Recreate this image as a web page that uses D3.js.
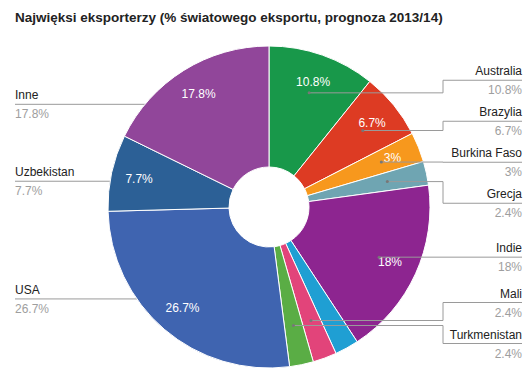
<!DOCTYPE html>
<html lang="pl">
<head>
<meta charset="utf-8">
<title>Najwięksi eksporterzy</title>
<script src="https://cdn.jsdelivr.net/npm/d3@7"></script>
<style>
  body { margin: 0; background: #fff; }
  svg { font-family: Arial, "Liberation Sans", sans-serif; }
</style>
</head>
<body>
<div id="chart"></div>
<script>
// data (clockwise from 12 o'clock)
var names  = ["Australia", "Brazylia", "Burkina Faso", "Grecja", "Indie", "", "Mali", "Turkmenistan", "USA", "Uzbekistan", "Inne"];
var values = [10.8, 6.7, 3, 2.4, 18, 2.4, 2.4, 2.4, 26.7, 7.7, 17.8];
var colors = ["#18984a", "#dd3b23", "#f7981d", "#6fa5b2", "#8d2590", "#1f9fd3", "#e2447a", "#5aad45", "#3f64b0", "#2c6096", "#91469a"];
var title = "Najwięksi eksporterzy (% światowego eksportu, prognoza 2013/14)";

var w = 531, h = 373;
var cx = 269, cy = 207, R = 161, r0 = 40;

var svg = d3.select("#chart").append("svg")
    .attr("width", w)
    .attr("height", h);

svg.append("text")
    .attr("x", 15)
    .attr("y", 22)
    .attr("font-size", 13.5)
    .attr("font-weight", "bold")
    .attr("fill", "#222")
    .text(title);

var data = names.map(function (n, i) { return { name: n, v: values[i], color: colors[i] }; });

var pie = d3.pie().sort(null).value(function (d) { return d.v; });
var arcs = pie(data);

var arc = d3.arc().innerRadius(r0).outerRadius(R);
var anchorArc = d3.arc().innerRadius(121).outerRadius(121);
var textArc = d3.arc().innerRadius(133).outerRadius(133);

// label layout: group overlapping labels and centre each group on its mean
function layoutLabels(items, gap) {
    items.sort(function (a, b) { return a.want - b.want; });
    var groups = items.map(function (d) { return { items: [d] }; });
    function top(g) {
        var m = d3.mean(g.items, function (d) { return d.want; });
        return m - (g.items.length - 1) * gap / 2;
    }
    var merged = true;
    while (merged) {
        merged = false;
        for (var i = 1; i < groups.length; i++) {
            var a = groups[i - 1], b = groups[i];
            if (top(a) + a.items.length * gap > top(b)) {
                a.items = a.items.concat(b.items);
                groups.splice(i, 1);
                merged = true;
                break;
            }
        }
    }
    groups.forEach(function (g) {
        var t = top(g);
        g.items.forEach(function (d, k) { d.y = t + k * gap; });
    });
}

var labels = arcs.filter(function (a) { return a.data.name !== ""; }).map(function (a) {
    var c = anchorArc.centroid(a);
    var mid = (a.startAngle + a.endAngle) / 2;
    return { a: a, tx: cx + c[0], ty: cy + c[1], want: cy + c[1], right: mid < Math.PI };
});
var rightLabels = labels.filter(function (d) { return d.right; });
var leftLabels = labels.filter(function (d) { return !d.right; });
layoutLabels(rightLabels, 41);
layoutLabels(leftLabels, 41);

var line = d3.line();

// left leaders sit under the pie
var gLeft = svg.append("g");
leftLabels.forEach(function (d) {
    gLeft.append("path")
        .attr("d", line([[15, d.y], [d.tx, d.y], [d.tx, d.ty]]))
        .attr("fill", "none")
        .attr("stroke", "#9a9a9a")
        .attr("stroke-width", 1);
});

var g = svg.append("g").attr("transform", "translate(" + cx + "," + cy + ")");

g.selectAll("path.slice")
    .data(arcs)
    .enter()
    .append("path")
    .attr("class", "slice")
    .attr("d", arc)
    .attr("fill", function (d) { return d.data.color; })
    .attr("stroke", "#fff")
    .attr("stroke-width", 1);

// right leaders on top of the slices
var bendX = 443, endX = 522;
var gRight = svg.append("g");
rightLabels.forEach(function (d) {
    gRight.append("path")
        .attr("d", line([[d.tx, d.ty], [bendX, d.ty], [bendX, d.y], [endX, d.y]]))
        .attr("fill", "none")
        .attr("stroke", "#9a9a9a")
        .attr("stroke-width", 1);
    gRight.append("circle")
        .attr("cx", d.tx)
        .attr("cy", d.ty)
        .attr("r", 1.5)
        .attr("fill", "#777");
});

// values inside the slices
g.selectAll("text.pct")
    .data(arcs.filter(function (a) { return a.data.v >= 3; }))
    .enter()
    .append("text")
    .attr("class", "pct")
    .attr("transform", function (d) { return "translate(" + textArc.centroid(d) + ")"; })
    .attr("text-anchor", "middle")
    .attr("dy", "0.35em")
    .attr("font-size", 12)
    .attr("fill", "#fff")
    .text(function (d) { return d.data.v + "%"; });

// outside labels
labels.forEach(function (d) {
    var x = d.right ? endX : 15;
    var anchor = d.right ? "end" : "start";
    svg.append("text")
        .attr("x", x)
        .attr("y", d.y - 5)
        .attr("text-anchor", anchor)
        .attr("font-size", 12)
        .attr("fill", "#222")
        .text(d.a.data.name);
    svg.append("text")
        .attr("x", x)
        .attr("y", d.y + 14)
        .attr("text-anchor", anchor)
        .attr("font-size", 12)
        .attr("fill", "#9e9e9e")
        .text(d.a.data.v + "%");
});
</script>
</body>
</html>
